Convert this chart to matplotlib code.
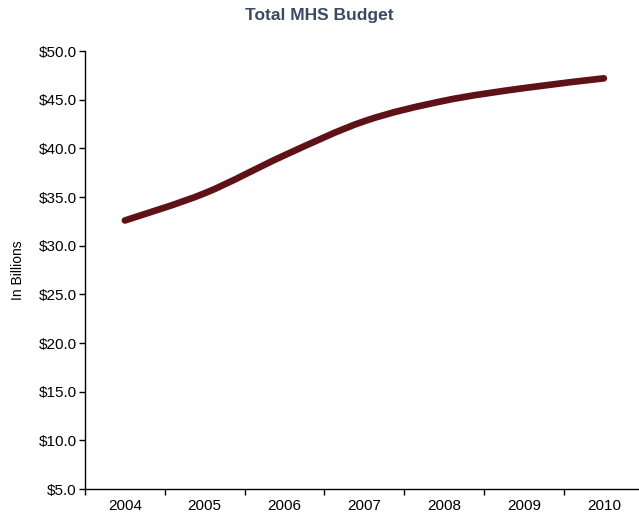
import numpy as np
import matplotlib
matplotlib.use("Agg")
import matplotlib.pyplot as plt
from matplotlib.path import Path
from matplotlib.patches import PathPatch
from matplotlib.ticker import FuncFormatter, FixedLocator


YEARS = ["2004", "2005", "2006", "2007", "2008", "2009", "2010"]
BUDGET = [32.6, 35.4, 39.3, 42.8, 44.9, 46.2, 47.2]  # in billions

LINE_COLOR = "#5e1116"
TITLE_COLOR = "#3b4a63"


def smooth_path(xs, ys):
    # excel-like smoothed line: cubic bezier through each point
    pts = np.column_stack([xs, ys]).astype(float)
    padded = np.vstack([pts[0], pts, pts[-1]])
    verts = [pts[0]]
    codes = [Path.MOVETO]
    for i in range(len(pts) - 1):
        p_prev, p0, p1, p_next = padded[i], padded[i + 1], padded[i + 2], padded[i + 3]
        c1 = p0 + (p1 - p_prev) / 6.0
        c2 = p1 - (p_next - p0) / 6.0
        verts += [c1, c2, p1]
        codes += [Path.CURVE4] * 3
    return Path(verts, codes)


def main():
    plt.rcParams["font.family"] = ["Liberation Sans", "DejaVu Sans"]

    fig = plt.figure(figsize=(6.39, 5.16), dpi=100)
    ax = fig.add_axes([0.133, 0.052, 0.867, 0.849])

    x = np.arange(len(YEARS))
    patch = PathPatch(smooth_path(x, BUDGET), fill=False, edgecolor=LINE_COLOR,
                      linewidth=4.8, capstyle="round", joinstyle="round")
    ax.add_patch(patch)

    ax.set_xlim(-0.5, 6.44)
    ax.set_ylim(5, 50)

    ax.set_yticks(np.arange(5, 50.1, 5))
    ax.yaxis.set_major_formatter(FuncFormatter(lambda v, p: f"${v:.1f}"))

    ax.set_xticks(x)
    ax.set_xticklabels(YEARS)
    ax.xaxis.set_minor_locator(FixedLocator(np.arange(-0.5, 6.5, 1.0)))
    ax.tick_params(axis="x", which="major", length=0, pad=7, labelsize=11)
    ax.tick_params(axis="x", which="minor", length=4, width=1, direction="out")
    ax.tick_params(axis="y", length=4, width=1, direction="out", pad=2, labelsize=11)

    for side in ["top", "right"]:
        ax.spines[side].set_visible(False)
    for side in ["left", "bottom"]:
        ax.spines[side].set_linewidth(1)
        ax.spines[side].set_color("black")

    ax.set_ylabel("In Billions", fontsize=10, labelpad=10)

    fig.text(0.5, 0.970, "Total MHS Budget", ha="center", va="center",
             fontsize=12.5, fontweight="bold", color=TITLE_COLOR)

    fig.savefig("out.png", dpi=100)
    plt.close(fig)


if __name__ == "__main__":
    main()
